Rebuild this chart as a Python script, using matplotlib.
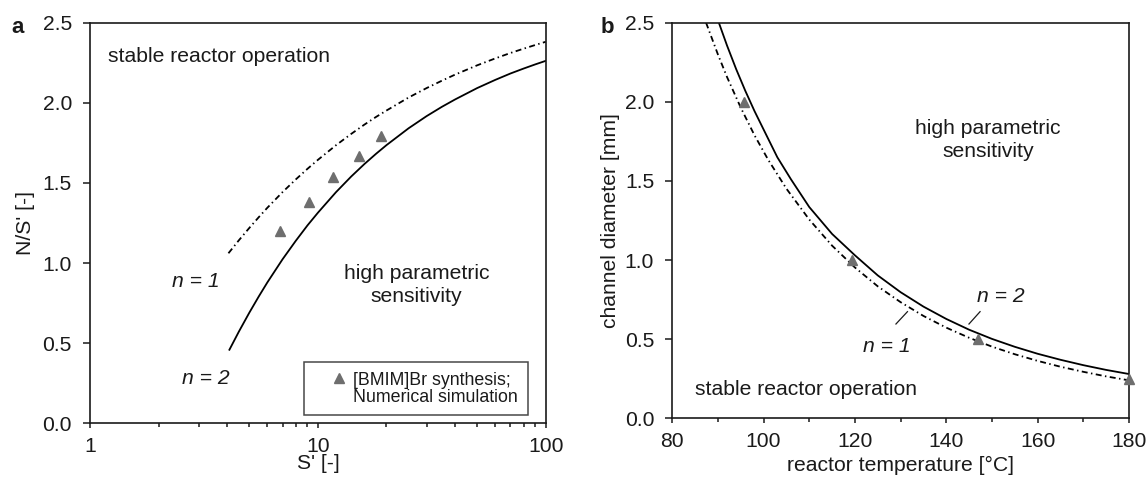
import matplotlib
matplotlib.use("Agg")
import matplotlib.pyplot as plt
from matplotlib.lines import Line2D
from matplotlib.ticker import NullFormatter, FixedLocator

plt.rcParams['font.family'] = ['Liberation Sans', 'DejaVu Sans']

# ---------------- Panel a data ----------------
a_S = [4.05, 4.5, 5, 5.5, 6, 7, 8, 9, 10, 12, 14, 16, 18, 20, 25, 30, 35, 40,
       50, 60, 70, 80, 90, 100]
a_y_n1 = [1.061, 1.142, 1.219, 1.286, 1.345, 1.443, 1.522, 1.588, 1.644, 1.735,
          1.806, 1.864, 1.912, 1.952, 2.033, 2.092, 2.138, 2.176, 2.234, 2.277,
          2.311, 2.338, 2.361, 2.381]
a_S2 = [4.09, 4.5, 5, 5.5, 6, 7, 8, 9, 10, 12, 14, 16, 18, 20, 25, 30, 35, 40,
        50, 60, 70, 80, 90, 100]
a_y_n2 = [0.459, 0.572, 0.690, 0.791, 0.879, 1.024, 1.139, 1.235, 1.314, 1.442,
          1.540, 1.618, 1.682, 1.736, 1.841, 1.917, 1.975, 2.021, 2.092, 2.143,
          2.183, 2.214, 2.240, 2.262]
a_S_pts = [6.8, 9.1, 11.7, 15.1, 18.9]
a_y_pts = [1.20, 1.38, 1.54, 1.67, 1.79]
a_xticks = [1, 10, 100]
a_xticklabels = ['1', '10', '100']

# ---------------- Panel b data ----------------
b_T_n1 = [87.4, 90, 92, 95, 98, 101, 105, 110, 115, 120, 125, 130, 135, 140,
          145, 150, 155, 160, 165, 170, 175, 180]
b_d_n1 = [2.5, 2.299, 2.156, 1.963, 1.789, 1.634, 1.451, 1.256, 1.091, 0.953,
          0.834, 0.734, 0.647, 0.573, 0.509, 0.453, 0.405, 0.363, 0.326, 0.294,
          0.265, 0.24]
b_T_n2 = [90.2, 92, 94, 96, 98, 100, 103, 106, 110, 115, 120, 125, 130, 135,
          140, 145, 150, 155, 160, 165, 170, 175, 180]
b_d_n2 = [2.5, 2.355, 2.206, 2.069, 1.942, 1.825, 1.65, 1.51, 1.335, 1.165,
          1.03, 0.903, 0.797, 0.706, 0.628, 0.56, 0.502, 0.452, 0.408, 0.37,
          0.336, 0.306, 0.28]
b_T_pts = [95.8, 119.4, 147.0, 180.0]
b_d_pts = [2.0, 1.0, 0.5, 0.25]
b_xticks = [80, 100, 120, 140, 160, 180]
b_xticklabels = ['80', '100', '120', '140', '160', '180']

yticks = [0.0, 0.5, 1.0, 1.5, 2.0, 2.5]
yticklabels = ['0.0', '0.5', '1.0', '1.5', '2.0', '2.5']

TXT = '#1a1a1a'
GRAY = '#6e6e6e'
FS = 15.2
DASHDOT = (0, (3.3, 1.9, 0.8, 1.9))

fig = plt.figure(figsize=(11.48, 4.84), dpi=100)
ax1 = fig.add_axes([0.0784, 0.1254, 0.3970, 0.8277])
ax2 = fig.add_axes([0.5856, 0.1357, 0.3978, 0.8174])

for ax in (ax1, ax2):
    for s in ax.spines.values():
        s.set_linewidth(1.2)
        s.set_color(TXT)
    ax.tick_params(which='both', direction='out', top=False, right=False,
                   width=1.1, color=TXT, labelcolor=TXT, labelsize=FS)
    ax.tick_params(axis='y', which='major', length=5, pad=8)
    ax.tick_params(axis='x', which='major', length=3.6, pad=6)
    ax.tick_params(axis='x', which='minor', length=3.2)
    ax.set_ylim(0, 2.5)
    ax.set_yticks(yticks)
    ax.set_yticklabels(yticklabels)

# ---- Panel a ----
ax1.set_xscale('log')
ax1.set_xlim(1, 100)
ax1.plot(a_S, a_y_n1, color='black', lw=1.3, linestyle=DASHDOT)
ax1.plot(a_S2, a_y_n2, color='black', lw=1.3)
ax1.plot(a_S_pts, a_y_pts, linestyle='none', marker='^', ms=7.2, color=GRAY)
ax1.xaxis.set_major_locator(FixedLocator(a_xticks))
ax1.set_xticklabels(a_xticklabels)
ax1.xaxis.set_minor_formatter(NullFormatter())
ax1.set_xlabel("S' [-]", fontsize=FS, color=TXT, va='center')
ax1.xaxis.set_label_coords(0.5, -0.1)
ax1.set_ylabel("N/S' [-]", fontsize=FS, color=TXT, va='center')
ax1.yaxis.set_label_coords(-0.141, 0.5)

ax1.text(1.2, 2.287, 'stable reactor operation', fontsize=FS, color=TXT,
         ha='left', va='center')
ax1.text(27.1, 0.863, 'high parametric\nsensitivity', fontsize=FS, color=TXT,
         ha='center', va='center', linespacing=1.3)
ax1.text(2.296, 0.884, 'n = 1', fontsize=FS, color=TXT, style='italic',
         ha='left', va='center')
ax1.text(2.534, 0.281, 'n = 2', fontsize=FS, color=TXT, style='italic',
         ha='left', va='center')

h1 = Line2D([], [], linestyle='none', marker='^', ms=7.2, color=GRAY)
h2 = Line2D([], [], linestyle='none', marker=None)
leg = ax1.legend([h1, h2], ['[BMIM]Br synthesis;', 'Numerical simulation'],
                 loc='lower right', bbox_to_anchor=(0.96, 0.02),
                 borderaxespad=0, fancybox=False, frameon=True,
                 edgecolor=TXT, fontsize=12.8, handlelength=2.79,
                 handletextpad=-0.61, labelspacing=0.0, borderpad=0.55,
                 labelcolor=TXT)
leg.get_frame().set_linewidth(1.1)

# ---- Panel b ----
ax2.set_xlim(80, 180)
ax2.plot(b_T_n1, b_d_n1, color='black', lw=1.3, linestyle=DASHDOT)
ax2.plot(b_T_n2, b_d_n2, color='black', lw=1.3)
ax2.plot(b_T_pts, b_d_pts, linestyle='none', marker='^', ms=7.2, color=GRAY,
         clip_on=False, zorder=5)
ax2.set_xticks(b_xticks)
ax2.set_xticklabels(b_xticklabels)
ax2.set_xticks([90, 110, 130, 150, 170], minor=True)
ax2.set_xlabel('reactor temperature [°C]', fontsize=FS, color=TXT, va='center')
ax2.xaxis.set_label_coords(0.5, -0.118)
ax2.set_ylabel('channel diameter [mm]', fontsize=FS, color=TXT, va='center')
ax2.yaxis.set_label_coords(-0.135, 0.5)

ax2.text(149.1, 1.759, 'high parametric\nsensitivity', fontsize=FS, color=TXT,
         ha='center', va='center', linespacing=1.3)
ax2.text(84.95, 0.179, 'stable reactor operation', fontsize=FS, color=TXT,
         ha='left', va='center')
ax2.text(146.7, 0.769, 'n = 2', fontsize=FS, color=TXT, style='italic',
         ha='left', va='center')
ax2.text(121.7, 0.453, 'n = 1', fontsize=FS, color=TXT, style='italic',
         ha='left', va='center')
ax2.plot([147.4, 144.97], [0.674, 0.596], color=TXT, lw=0.9)
ax2.plot([131.5, 128.98], [0.674, 0.596], color=TXT, lw=0.9)

fig.text(18 / 1148, 1 - 27.5 / 484, 'a', fontsize=16, fontweight='bold',
         color=TXT, ha='center', va='center')
fig.text(607.8 / 1148, 1 - 27.5 / 484, 'b', fontsize=16, fontweight='bold',
         color=TXT, ha='center', va='center')

fig.savefig('out.png', dpi=100)
